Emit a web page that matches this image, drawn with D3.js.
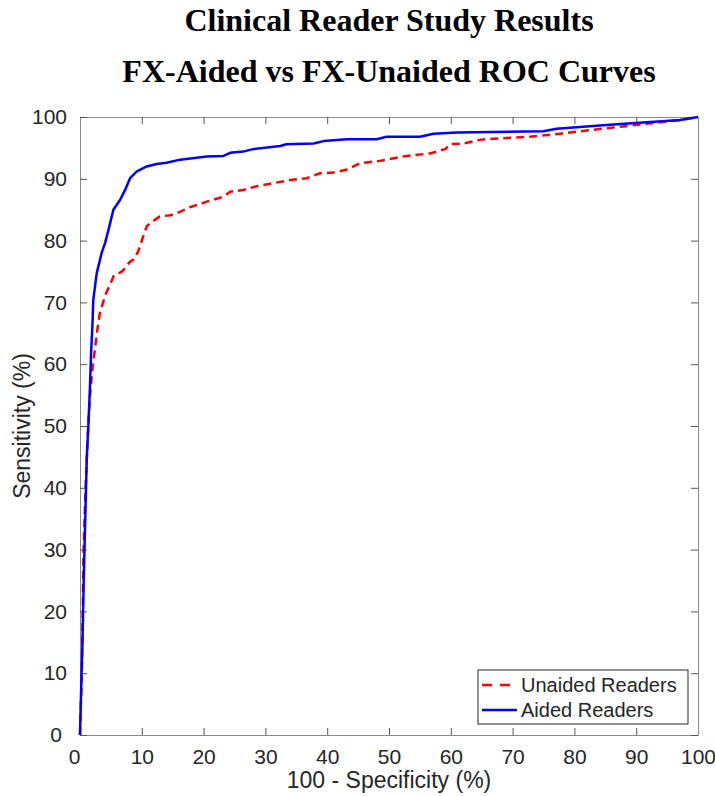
<!DOCTYPE html>
<meta charset="utf-8">
<style>
body { margin: 0; background: #fff; }
text { font-family: "Liberation Sans", Helvetica, Arial, sans-serif; fill: #262626; }
.title { font-family: "Liberation Serif", "Times New Roman", serif; font-weight: bold; fill: #000; }
</style>
<svg width="715" height="796"></svg>
<script src="https://d3js.org/d3.v7.min.js"></script>
<script>
// ROC points (100 - specificity, sensitivity), in %
const aidedFpr = [0, 0.25, 0.4, 0.6, 0.85, 1.1, 1.35, 1.6, 1.8, 2.0, 2.15, 2.7, 3.5, 4.05, 4.6, 5.4, 6.5, 7.3, 8.1, 9.2, 10.8, 12.4, 14.0, 16.2, 20.5, 23.2, 24.3, 26.4, 28.0, 32.4, 33.4, 37.8, 39.4, 43.2, 48.0, 49.6, 55.0, 57.2, 61.0, 75.0, 77.1, 86.3, 97.1, 100];
const aidedTpr = [0, 10, 15, 25, 35, 45, 50, 56, 62, 66, 70.4, 74.7, 78, 79.6, 81.7, 85, 86.6, 88.2, 90.1, 91.2, 92.0, 92.4, 92.6, 93.1, 93.6, 93.7, 94.2, 94.4, 94.8, 95.3, 95.6, 95.7, 96.1, 96.4, 96.4, 96.8, 96.8, 97.3, 97.5, 97.7, 98.1, 98.8, 99.5, 100];

const unaidedFpr = [0, 0.3, 0.45, 0.55, 0.9, 1.35, 1.6, 2.05, 2.4, 2.8, 3.2, 4.1, 5.1, 5.4, 6.6, 7.0, 8.1, 8.6, 9.4, 10.2, 10.8, 11.3, 12.9, 14.6, 15.6, 17.8, 20.5, 23.2, 24.3, 26.4, 28.6, 31.3, 34.0, 36.7, 38.8, 41.0, 43.2, 45.3, 48.5, 52.8, 56.6, 59.1, 59.9, 62.0, 64.7, 66.9, 72.8, 77.7, 82.0, 86.3, 91.7, 97.1, 100];
const unaidedTpr = [0, 10, 20, 29, 40, 50.4, 54.7, 59.6, 62.3, 65.5, 68.2, 71.2, 73.4, 74.2, 74.9, 75.2, 76.6, 76.9, 78.2, 80.6, 82.3, 82.8, 83.9, 84.1, 84.4, 85.4, 86.3, 87.1, 87.9, 88.2, 88.8, 89.3, 89.8, 90.1, 90.9, 91.0, 91.5, 92.5, 92.9, 93.7, 94.1, 94.8, 95.6, 95.7, 96.3, 96.5, 96.8, 97.3, 97.8, 98.3, 98.9, 99.5, 100];

const tickValues = [0, 10, 20, 30, 40, 50, 60, 70, 80, 90, 100];
const seriesNames = ["Unaided Readers", "Aided Readers"];

const svg = d3.select("svg");
const plotLeft = 80, plotRight = 698, plotTop = 117, plotBottom = 735;

const x = d3.scaleLinear().domain([0, 100]).range([plotLeft, plotRight]);
const y = d3.scaleLinear().domain([0, 100]).range([plotBottom, plotTop]);

// titles
svg.append("text").attr("class", "title")
    .attr("x", 389).attr("y", 31)
    .attr("text-anchor", "middle").style("font-size", "32px")
    .text("Clinical Reader Study Results");
svg.append("text").attr("class", "title")
    .attr("x", 389).attr("y", 82)
    .attr("text-anchor", "middle").style("font-size", "32px")
    .text("FX-Aided vs FX-Unaided ROC Curves");

// axes with inward ticks on all four sides
const tickLen = 7;
const xAxis = svg.append("g").attr("transform", `translate(0,${plotBottom})`)
    .call(d3.axisBottom(x).tickValues(tickValues).tickSizeInner(-tickLen).tickSizeOuter(0).tickPadding(14));
const xTop = svg.append("g").attr("transform", `translate(0,${plotTop})`)
    .call(d3.axisTop(x).tickValues(tickValues).tickSizeInner(-tickLen).tickSizeOuter(0).tickFormat(""));
const yAxis = svg.append("g").attr("transform", `translate(${plotLeft},0)`)
    .call(d3.axisLeft(y).tickValues(tickValues).tickSizeInner(-tickLen).tickSizeOuter(0).tickPadding(13));
const yRight = svg.append("g").attr("transform", `translate(${plotRight},0)`)
    .call(d3.axisRight(y).tickValues(tickValues).tickSizeInner(-tickLen).tickSizeOuter(0).tickFormat(""));

[xAxis, xTop, yAxis, yRight].forEach(function(g) {
    g.select(".domain").attr("stroke", "#888").attr("stroke-width", 1);
    g.selectAll(".tick line").attr("stroke", "#555");
    g.selectAll(".tick text").style("font-size", "21px").attr("fill", "#262626")
        .style("font-family", "'Liberation Sans', Helvetica, Arial, sans-serif");
});
// corner labels are nudged apart in the original
xAxis.selectAll(".tick text").filter(function(d) { return d === 0; }).attr("dx", -6);
yAxis.selectAll(".tick text").filter(function(d) { return d === 0; }).attr("dx", -5);

// axis labels
svg.append("text").attr("x", (plotLeft + plotRight) / 2).attr("y", 788)
    .attr("text-anchor", "middle").style("font-size", "23px")
    .text("100 - Specificity (%)");
svg.append("text").attr("transform", `translate(30,${(plotTop + plotBottom) / 2}) rotate(-90)`)
    .attr("text-anchor", "middle").style("font-size", "23px")
    .text("Sensitivity (%)");

// curves
const line = d3.line()
    .x(function(d) { return x(d[0]); })
    .y(function(d) { return y(d[1]); });

const unaided = unaidedFpr.map(function(v, i) { return [v, unaidedTpr[i]]; });
const aided = aidedFpr.map(function(v, i) { return [v, aidedTpr[i]]; });

svg.append("path").datum(unaided)
    .attr("d", line).attr("fill", "none")
    .attr("stroke", "#ff0000").attr("stroke-width", 2.5)
    .attr("stroke-dasharray", "8,5");
svg.append("path").datum(aided)
    .attr("d", line).attr("fill", "none")
    .attr("stroke", "#0000ff").attr("stroke-width", 2.5)
    .attr("stroke-linejoin", "round");

// legend
const legend = svg.append("g");
legend.append("rect")
    .attr("x", 478).attr("y", 670).attr("width", 210).attr("height", 54)
    .attr("fill", "#fff").attr("stroke", "#262626").attr("stroke-width", 1);
const legendStyles = [
    {color: "#ff0000", dash: "10,8"},
    {color: "#0000ff", dash: null}
];
seriesNames.forEach(function(name, i) {
    const yy = 685 + i * 25;
    legend.append("line")
        .attr("x1", 482).attr("x2", 517).attr("y1", yy).attr("y2", yy)
        .attr("stroke", legendStyles[i].color).attr("stroke-width", 2.5)
        .attr("stroke-dasharray", legendStyles[i].dash);
    legend.append("text")
        .attr("x", 521).attr("y", yy + 7)
        .style("font-size", "20px")
        .text(name);
});
</script>
